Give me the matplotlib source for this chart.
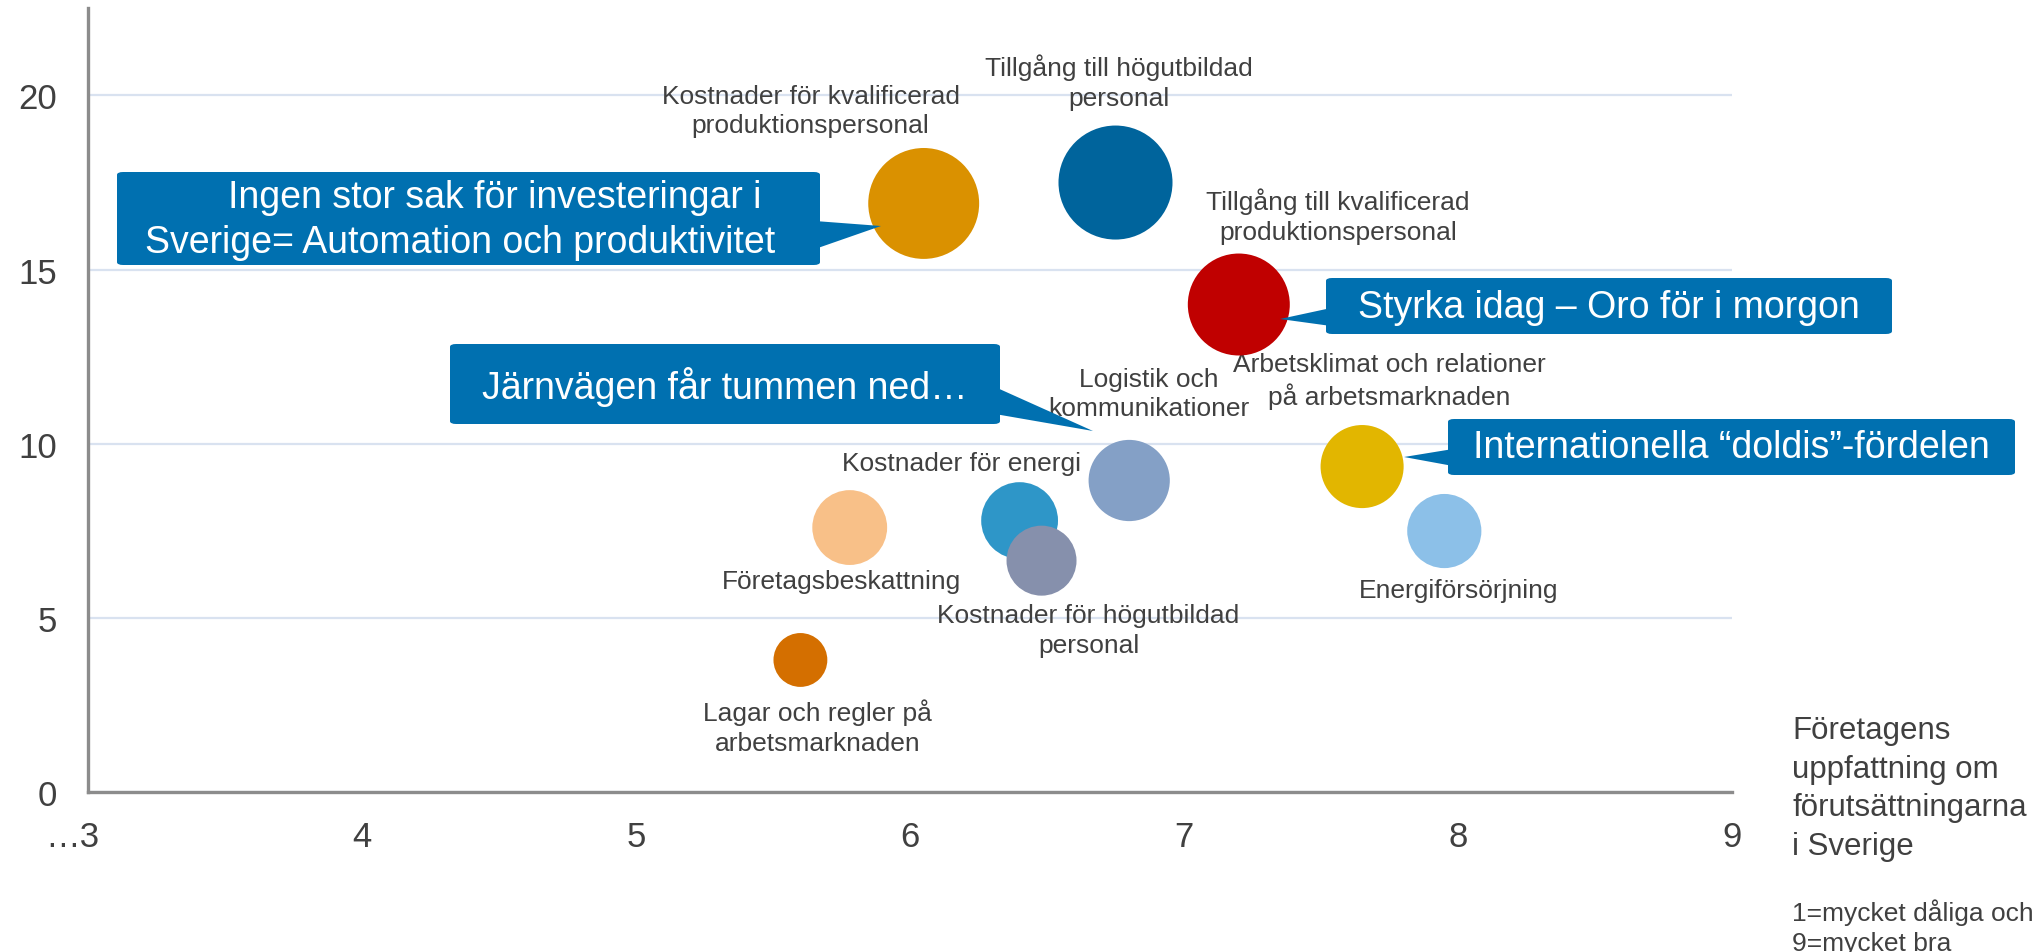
import matplotlib
matplotlib.use("Agg")
import matplotlib.pyplot as plt
from matplotlib.patches import FancyBboxPatch, Polygon
from matplotlib.transforms import ScaledTranslation

plt.rcParams["font.family"] = ["Liberation Sans", "DejaVu Sans"]

W, H = 2042, 953
TXT = "#404040"
BOX = "#0070B0"

# bubbles: assessment (x), importance (y), weight (bubble area)
labels = [
    "Kostnader för kvalificerad\nproduktionspersonal",
    "Tillgång till högutbildad\npersonal",
    "Tillgång till kvalificerad\nproduktionspersonal",
    "Logistik och\nkommunikationer",
    "Arbetsklimat och relationer\npå arbetsmarknaden",
    "Kostnader för energi",
    "Företagsbeskattning",
    "Kostnader för högutbildad\npersonal",
    "Energiförsörjning",
    "Lagar och regler på\narbetsmarknaden",
]
x_vals = [6.05, 6.75, 7.20, 6.80, 7.65, 6.40, 5.78, 6.48, 7.95, 5.60]
y_vals = [16.9, 17.5, 14.0, 8.95, 9.35, 7.8, 7.6, 6.65, 7.5, 3.8]
weight = [123, 130, 104, 66, 69, 59, 56, 49, 55, 29]
colors = ["#DA9100", "#00649C", "#C00000", "#84A0C6", "#E2B600",
          "#2E96C8", "#F8C088", "#8690AC", "#8CC0E8", "#D46F00"]
# label offset from bubble centre, in pixels (dx right, dy down)
lab_off = [(-113, -93), (3, -101), (99, -89), (20, -87), (27, -86),
           (-58, -58), (-8, 53), (47, 69), (14, 59), (17, 67)]

x_ticks = [3, 4, 5, 6, 7, 8, 9]
x_ticklabels = ["…3", "4", "5", "6", "7", "8", "9"]
y_ticks = [0, 5, 10, 15, 20]

fig = plt.figure(figsize=(W / 100, H / 100), dpi=100)
ax = fig.add_axes([88 / W, 1 - 793.4 / H, (1732 - 88) / W, (793.4 - 9.3) / H])

sizes = [w * 51.84 for w in weight]
ax.scatter(x_vals, y_vals, s=sizes, c=colors, linewidths=0, zorder=3)

for lab, x, y, (dx, dy) in zip(labels, x_vals, y_vals, lab_off):
    ax.annotate(lab, (x, y), xytext=(dx * 0.72, -dy * 0.72), textcoords="offset points",
                ha="center", va="center", fontsize=19, color=TXT, linespacing=1.3,
                zorder=2)

ax.set_xlim(3, 9)
ax.set_ylim(0, 22.5)
ax.set_xticks(x_ticks)
ax.set_xticklabels(x_ticklabels)
ax.set_yticks(y_ticks)
ax.tick_params(length=0, labelsize=25, labelcolor=TXT)
ax.tick_params(axis="x", pad=20)
ax.tick_params(axis="y", pad=22)
first = ax.get_xticklabels()[0]
first.set_ha("right")
first.set_transform(first.get_transform() + ScaledTranslation(0.11, 0, fig.dpi_scale_trans))
ax.yaxis.grid(True, color="#D9E2F0", lw=1.6)
ax.set_axisbelow(True)
for s in ("top", "right"):
    ax.spines[s].set_visible(False)
for s in ("left", "bottom"):
    ax.spines[s].set_color("#8C8C8C")
    ax.spines[s].set_linewidth(2.4)


def px(x, y):
    return x / W, 1 - y / H


def callout(box, base, tip):
    x0, y0, x1, y1 = box
    bx, by = px(x0, y1)
    fig.patches.append(FancyBboxPatch((bx, by), (x1 - x0) / W, (y1 - y0) / H,
                                      boxstyle="round,pad=0,rounding_size=0.003",
                                      transform=fig.transFigure, fc=BOX, ec="none",
                                      zorder=5))
    fig.patches.append(Polygon([px(*base[0]), px(*tip), px(*base[1])],
                               closed=True, transform=fig.transFigure,
                               fc=BOX, ec="none", zorder=5))


callout((117, 173, 820, 266), [(815, 222), (815, 250)], (881, 227))
fig.text(*px(495, 198), "Ingen stor sak för investeringar i", ha="center", va="center",
         fontsize=27, color="white", zorder=6)
fig.text(*px(460, 243), "Sverige= Automation och produktivitet", ha="center", va="center",
         fontsize=27, color="white", zorder=6)

callout((450, 345, 1000, 425), [(995, 388), (995, 415)], (1093, 432))
fig.text(*px(725, 387), "Järnvägen får tummen ned…", ha="center", va="center",
         fontsize=27, color="white", zorder=6)

callout((1326, 279, 1892, 335), [(1331, 309), (1331, 327)], (1280, 320))
fig.text(*px(1609, 308), "Styrka idag – Oro för i morgon", ha="center", va="center",
         fontsize=27, color="white", zorder=6)

callout((1448, 420, 2015, 476), [(1453, 450), (1453, 467)], (1404, 458))
fig.text(*px(1731, 448), "Internationella “doldis”-fördelen", ha="center", va="center",
         fontsize=27, color="white", zorder=6)

fig.text(*px(1792, 789), "Företagens\nuppfattning om\nförutsättningarna\ni Sverige",
         ha="left", va="center", fontsize=22.5, color=TXT, linespacing=1.38)
fig.text(*px(1792, 928), "1=mycket dåliga och\n9=mycket bra",
         ha="left", va="center", fontsize=19, color=TXT, linespacing=1.3)

fig.savefig("out.png", dpi=100)
plt.close(fig)
